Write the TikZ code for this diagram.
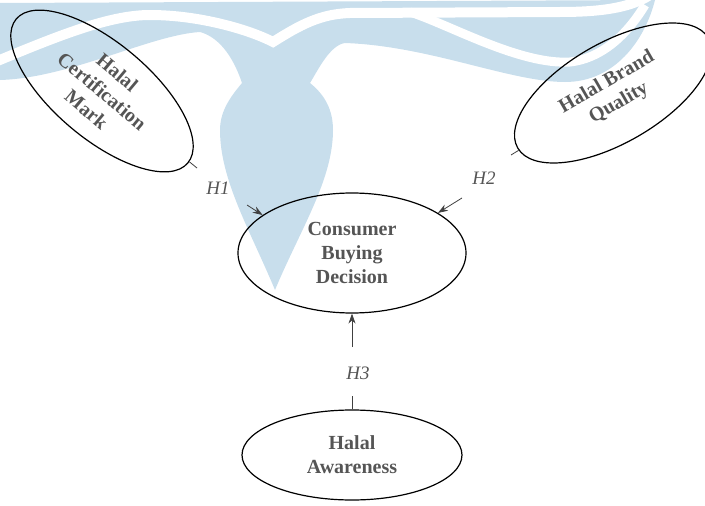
\documentclass[tikz,border=0pt]{standalone}
\usepackage{fontspec}
\setmainfont{Liberation Serif}
\usetikzlibrary{shapes.geometric,arrows.meta}
\definecolor{wmblue}{RGB}{200,222,236}
\definecolor{txtgray}{RGB}{85,85,85}
\begin{document}
\begin{tikzpicture}[x=1pt,y=-1pt,
    construct/.style={ellipse,draw=black,line width=1.2pt,inner sep=0pt,align=center,text=txtgray,font=\fontsize{20}{24}\selectfont\bfseries},
    hyp/.style={text=txtgray,font=\fontsize{19}{22}\selectfont\itshape},
    link/.style={draw=black!75,line width=0.8pt},
    arr/.style={link,-{Stealth[length=10pt,width=7pt]}}]
\useasboundingbox (0,0) rectangle (705,506);
\begin{scope}
    \clip (0,0) rectangle (705,506);
    \fill[wmblue] (0,3) -- (655,0) .. controls (645,40) and (615,82) .. (565,82)
        .. controls (510,82) and (430,46) .. (345,43) .. controls (330,45) and (318,70) .. (310,83)
        .. controls (325,95) and (333,110) .. (333,130) .. controls (333,180) and (300,230) .. (275,290)
        .. controls (250,230) and (220,180) .. (220,130) .. controls (220,110) and (232,95) .. (242,83)
        .. controls (235,62) and (222,38) .. (200,32) .. controls (150,35) and (70,78) .. (0,80) -- cycle;
    \draw[white,line width=10pt] (-5,62) .. controls (60,35) and (110,15) .. (150,15)
        .. controls (200,15) and (250,30) .. (273,42) .. controls (300,25) and (320,14) .. (350,13)
        -- (560,12) .. controls (600,12) and (630,8) .. (650,-5);
    \draw[white,line width=9pt] (410,12) .. controls (450,25) and (520,65) .. (570,62)
        .. controls (605,58) and (630,30) .. (645,5);
\end{scope}
\node[construct,minimum width=224pt,minimum height=96pt,rotate=-40] (cert) at (102,91) {Halal\\Certification\\Mark};
\node[construct,minimum width=220pt,minimum height=100pt,rotate=30] (brand) at (613,93) {Halal Brand\\Quality};
\node[construct,minimum width=228pt,minimum height=120pt] (cons) at (352,253) {Consumer\\Buying\\Decision};
\node[construct,minimum width=220pt,minimum height=90pt] (aware) at (352,455) {Halal\\Awareness};
\coordinate (h1a) at (197,168);
\coordinate (h1b) at (247,205);
\coordinate (h2a) at (511,155);
\coordinate (h2b) at (462,198);
\coordinate (h3a) at (352,396);
\coordinate (h3b) at (352,347);
\draw[link] (cert) -- (h1a);
\draw[arr] (h1b) -- (cons.157);
\draw[link] (brand) -- (h2a);
\draw[arr] (h2b) -- (cons.25);
\draw[link] (aware) -- (h3a);
\draw[arr] (h3b) -- (cons.south);
\node[hyp] (h1) at (218,188) {H1};
\node[hyp] (h2) at (484,178) {H2};
\node[hyp] (h3) at (358,373) {H3};
\end{tikzpicture}
\end{document}
